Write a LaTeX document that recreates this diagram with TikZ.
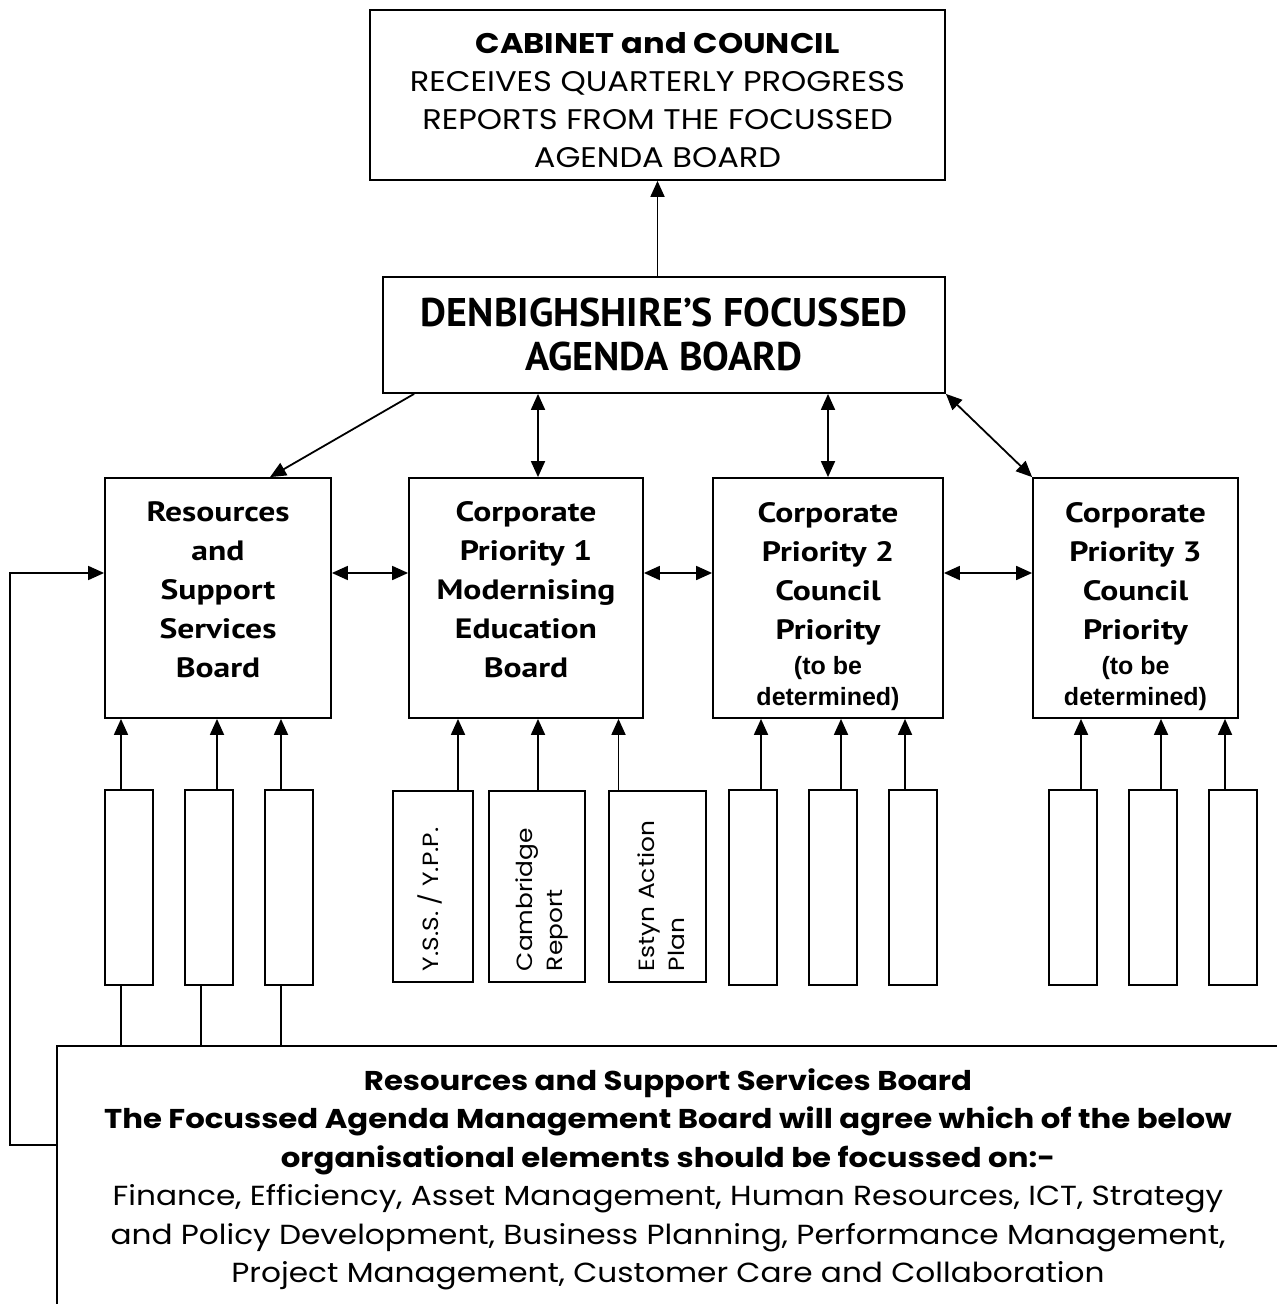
\documentclass[tikz,border=0pt]{standalone}
\usepackage{fontspec}
\setmainfont{Poppins}[FakeStretch=1.13]
\newfontfamily\twfont{PT Sans}
\newfontfamily\twwide{PT Sans}[FakeStretch=1.2]
\newfontfamily\arfont{Liberation Sans}
\usetikzlibrary{arrows.meta,calc}
\newcommand{\tbd}{\arfont\bfseries\fontsize{12.5}{13}\selectfont}
\begin{document}
\begin{tikzpicture}[x=0.5pt,y=-0.5pt,>={Triangle[length=8pt,width=7pt]},line width=0.9pt,
    box/.style={draw,align=center,inner sep=0pt},
    bfont/.style={font=\twwide\bfseries\fontsize{14}{19.5}\selectfont},
    sbox/.style={draw,minimum height=97.5pt,minimum width=24pt,inner sep=0pt},
    vlab/.style={rotate=90,anchor=west,align=left,inner sep=0pt,font=\fontsize{11}{15}\selectfont}]
    \useasboundingbox (0,0) rectangle (1277,1304);
    % top of the structure
    \node[box,minimum width=287.5pt,minimum height=85pt,text height=73pt,text depth=0pt,
        font=\fontsize{14.2}{19}\selectfont] (cab) at (657.5,95)
        {{\bfseries CABINET and COUNCIL}\\RECEIVES QUARTERLY PROGRESS\\REPORTS FROM THE FOCUSSED\\AGENDA BOARD};
    \node[box,minimum width=281pt,minimum height=58pt,font=\twfont\bfseries\fontsize{20}{22}\selectfont] (dfa) at (664,335)
        {DENBIGHSHIRE’S FOCUSSED\\AGENDA BOARD};
    \draw[->] (cab.south |- dfa.north) -- (cab.south);
    % the four boards
    \node[box,bfont,minimum width=113pt,minimum height=120pt,text height=79pt,text depth=0pt] (rss) at (218,598)
        {Resources\\and\\Support\\Services\\Board};
    \node[box,bfont,minimum width=117pt,minimum height=120pt,text height=79pt,text depth=0pt] (cp1) at (526,598)
        {Corporate\\Priority 1\\Modernising\\Education\\Board};
    \node[box,bfont,minimum width=115pt,minimum height=120pt,text height=107pt,text depth=0pt] (cp2) at (828,598)
        {Corporate\\Priority 2\\Council\\Priority\\[-2pt]{\tbd (to be}\\[-4pt]{\tbd determined)}};
    \node[box,bfont,minimum width=102.5pt,minimum height=120pt,text height=107pt,text depth=0pt] (cp3) at (1135.5,598)
        {Corporate\\Priority 3\\Council\\Priority\\[-2pt]{\tbd (to be}\\[-4pt]{\tbd determined)}};
    \draw[->] ([xshift=16pt]dfa.south west) -- ([xshift=26pt]rss.north);
    \draw[<->] ([xshift=6pt]cp1.north |- dfa.south) -- ([xshift=6pt]cp1.north);
    \draw[<->] (cp2.north |- dfa.south) -- (cp2.north);
    \draw[<->] (dfa.south east) -- (cp3.north west);
    \coordinate (hy) at (0,573);
    \draw[<->] (rss.east |- hy) -- (cp1.west |- hy);
    \draw[<->] (cp1.east |- hy) -- (cp2.west |- hy);
    \draw[<->] (cp2.east |- hy) -- (cp3.west |- hy);
    % small boxes under each board
    \foreach \n/\x in {r1/129,r2/209,r3/289,b1/753,b2/833,b3/913,c1/1073,c2/1153,c3/1233}
        \node[sbox] (\n) at (\x,887.5) {};
    \node[sbox,minimum width=40pt,minimum height=95.5pt] (e1) at (433,886.5) {};
    \node[sbox,minimum width=48pt,minimum height=95.5pt] (e2) at (537,886.5) {};
    \node[sbox,minimum width=48.5pt,minimum height=95.5pt] (e3) at (657.5,886.5) {};
    \node[vlab] (l1) at (430,972) {Y.S.S. / Y.P.P.};
    \node[vlab] (l2) at (542,972) {Cambridge\\Report};
    \node[vlab] (l3) at (661,972) {Estyn Action\\Plan};
    \foreach \n/\o in {r1/-4,r2/4,r3/-4}
        \draw[->] ([xshift=\o pt]\n.north) -- ([xshift=\o pt]\n.north |- rss.south);
    \foreach \n/\o in {e1/12.5,e2/0.5,e3/-19.5}
        \draw[->] ([xshift=\o pt]\n.north) -- ([xshift=\o pt]\n.north |- cp1.south);
    \foreach \n/\o in {b1/4,b2/4,b3/-4}
        \draw[->] ([xshift=\o pt]\n.north) -- ([xshift=\o pt]\n.north |- cp2.south);
    \foreach \n/\o in {c1/4,c2/4,c3/-4}
        \draw[->] ([xshift=\o pt]\n.north) -- ([xshift=\o pt]\n.north |- cp3.south);
    % resources panel at the foot
    \coordinate (fr) at (57,1046);
    \coordinate (fb) at (57,1145);
    \foreach \n in {r1,r2,r3}
        \draw ([xshift=-4pt]\n.south) -- ([xshift=-4pt]\n.south |- fr);
    \draw (1277,1046) -- (fr) -- (57,1304);
    \node[align=center,inner sep=0pt,font=\fontsize{13.8}{19.25}\selectfont] (rsb) at (668,1179.5)
        {{\fontsize{13.6}{19.25}\selectfont\bfseries Resources and Support Services Board}\\
         {\fontsize{13.6}{19.25}\selectfont\bfseries The Focussed Agenda Management Board will agree which of the below}\\
         {\fontsize{13.6}{19.25}\selectfont\bfseries organisational elements should be focussed on:-}\\
         Finance, Efficiency, Asset Management, Human Resources, ICT, Strategy\\
         and Policy Development, Business Planning, Performance Management,\\
         Project Management, Customer Care and Collaboration};
    \draw[->] (fb) -- ++(-47,0) |- (rss.west |- hy);
\end{tikzpicture}
\end{document}
